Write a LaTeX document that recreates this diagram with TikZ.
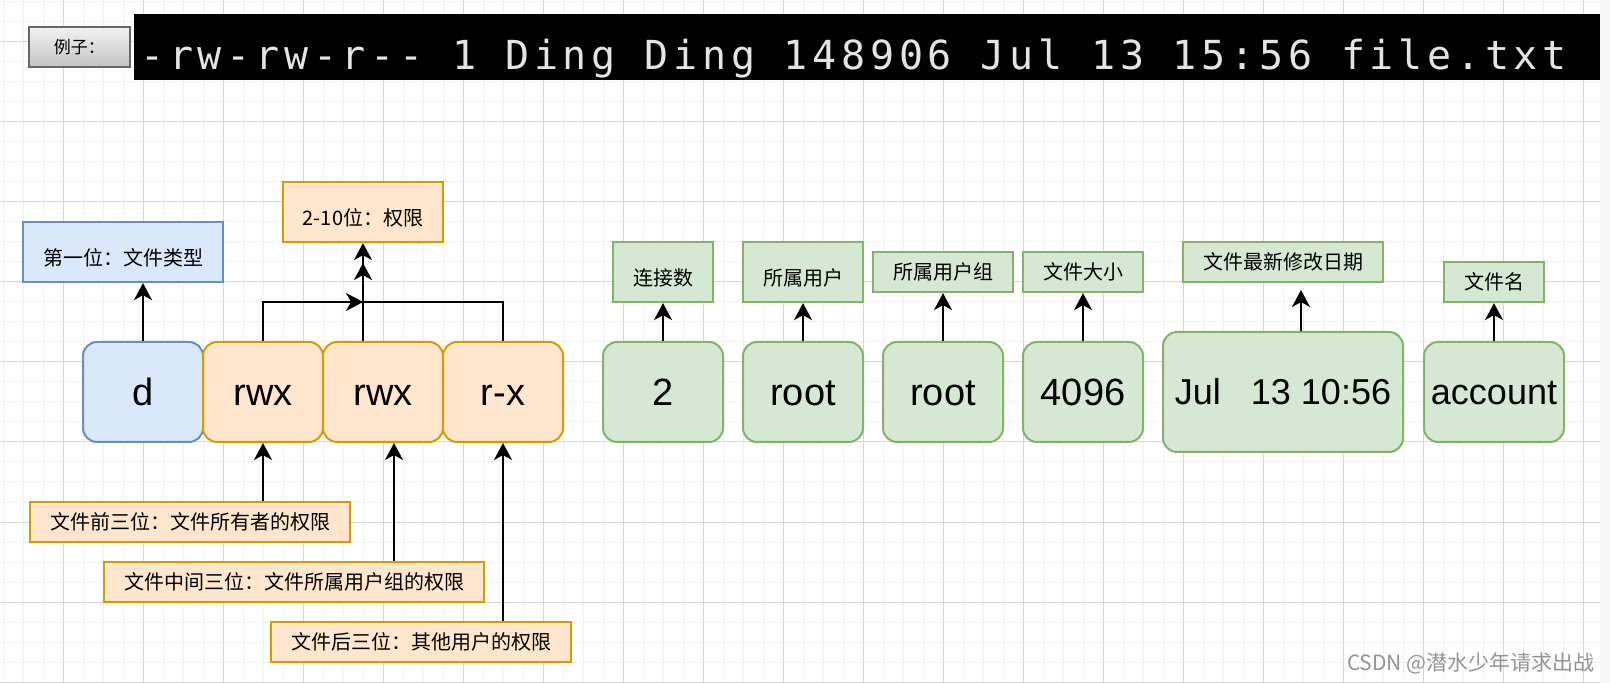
\documentclass[tikz,border=0pt]{standalone}
\usepackage{fontspec}
\setmainfont{Liberation Sans}
\newfontfamily\cjk{Noto Sans CJK SC}
\newfontfamily\termfont[LetterSpace=11.8]{DejaVu Sans Mono}
\usetikzlibrary{arrows.meta}
\definecolor{blueF}{HTML}{DAE8FC}
\definecolor{blueD}{HTML}{6C8EBF}
\definecolor{orangeF}{HTML}{FFE6CC}
\definecolor{orangeD}{HTML}{D79B00}
\definecolor{greenF}{HTML}{D5E8D4}
\definecolor{greenD}{HTML}{82B366}
\definecolor{gridlo}{HTML}{F0F0F0}
\definecolor{gridhi}{HTML}{D6D6D6}
\definecolor{termgray}{HTML}{E4E4E4}

\begin{document}
\begin{tikzpicture}[x=0.5pt, y=-0.5pt] % 1 unit = 1 px of the screenshot
\tikzstyle{gridminor} = [gridlo, line width=0.5pt] % fine grid
\tikzstyle{gridmajor} = [gridhi, line width=0.5pt] % every 4th line
\tikzstyle{bit} = [draw, line width=1pt, rounded corners=7pt, minimum width=60pt, minimum height=50pt, inner sep=0pt, font=\fontsize{19}{22}\selectfont, text height=13.6pt, text depth=0pt] % big field box
\tikzstyle{smallbit} = [bit, font=\fontsize{18}{22}\selectfont, text height=12.9pt] % same, smaller letters
\tikzstyle{tag} = [draw, line width=1.1pt, inner sep=0pt, font=\cjk\fontsize{10}{12}\selectfont, text height=8.6pt, text depth=1.4pt] % caption box
\tikzstyle{lowtag} = [tag, text height=14.6pt] % caption with text a bit lower
\tikzstyle{bluebox} = [fill=blueF, draw=blueD]
\tikzstyle{orangebox} = [fill=orangeF, draw=orangeD]
\tikzstyle{greenbox} = [fill=greenF, draw=greenD]
\tikzstyle{arr} = [draw, line width=1.2pt, -{Stealth[length=8.5pt, width=9pt, inset=2.5pt]}]

\useasboundingbox (0,0) rectangle (1610,683);
\fill[white] (0,0) rectangle (1600,683);
\fill[gray!6] (1600,0) rectangle (1610,683);
\foreach \gx in {3,23,...,1583} \draw[gridminor] (\gx,0) -- (\gx,683);
\foreach \gy in {2,22,...,682} \draw[gridminor] (0,\gy) -- (1600,\gy);
\foreach \gx in {63,143,...,1583} \draw[gridmajor] (\gx,0) -- (\gx,683);
\foreach \gy in {42,122,...,682} \draw[gridmajor] (0,\gy) -- (1600,\gy);

% example line
\node[draw=black!60, line width=1pt, top color=black!5, bottom color=black!24, minimum width=50.5pt, minimum height=20pt, inner sep=0pt, font=\cjk\fontsize{8.5}{10}\selectfont] (example) at (79.5,47.5) {例子：};
\node[fill=black, minimum width=733pt, minimum height=33pt, inner sep=0pt] (term) at (867,47) {};
\node[anchor=base west, inner sep=0pt, text=termgray, font=\termfont\fontsize{20}{24}\selectfont] (termline) at (140,70) {-rw-rw-r-{}- 1 Ding Ding 148906 Jul 13 15:56 file.txt};

% type and permission bits
\node[bit, bluebox] (ftype) at (143,392) {d};
\node[bit, orangebox] (uperm) at (263,392) {rwx};
\node[bit, orangebox] (gperm) at (383,392) {rwx};
\node[bit, orangebox] (operm) at (503,392) {r-x};

\node[lowtag, bluebox, minimum width=100pt, minimum height=30pt] (ftypetag) at (123,252) {第一位：文件类型};
\node[lowtag, orangebox, minimum width=80pt, minimum height=30pt] (permtag) at (363,212) {2-10位：权限};
\node[tag, orangebox, minimum width=160pt, minimum height=20pt] (upermtag) at (190,522) {文件前三位：文件所有者的权限};
\node[tag, orangebox, minimum width=190pt, minimum height=20pt] (gpermtag) at (294,582) {文件中间三位：文件所属用户组的权限};
\node[tag, orangebox, minimum width=150pt, minimum height=20pt] (opermtag) at (421,642) {文件后三位：其他用户的权限};

% other fields
\node[bit, greenbox] (links) at (663,392) {2};
\node[bit, greenbox] (owner) at (803,392) {root};
\node[bit, greenbox] (group) at (943,392) {root};
\node[bit, greenbox] (fsize) at (1083,392) {4096};
\node[smallbit, greenbox, minimum width=120pt, minimum height=60pt] (mtime) at (1283,392) {Jul\ \ \ 13 10:56};
\node[smallbit, greenbox, minimum width=70pt] (fname) at (1494,392) {account};

\node[lowtag, greenbox, minimum width=50pt, minimum height=30pt] (linkstag) at (663,272) {连接数};
\node[lowtag, greenbox, minimum width=60pt, minimum height=30pt] (ownertag) at (803,272) {所属用户};
\node[tag, greenbox, minimum width=70pt, minimum height=20pt] (grouptag) at (943,272) {所属用户组};
\node[tag, greenbox, minimum width=60pt, minimum height=20pt] (fsizetag) at (1083,272) {文件大小};
\node[tag, greenbox, minimum width=100pt, minimum height=20pt] (mtimetag) at (1283,262) {文件最新修改日期};
\node[tag, greenbox, minimum width=50pt, minimum height=20pt] (fnametag) at (1494,282) {文件名};

% connectors
\coordinate (permjoin) at (363,302);
\coordinate (permup) at (363,263);
\coordinate (mtimetip) at (1301,290);
\draw[arr] (ftype.north) -- (ftype.north |- ftypetag.south);
\draw[arr] (uperm.north) |- (permjoin);
\draw[arr] (operm.north) |- (permjoin) -- (permup);
\draw[arr] (permtag.south |- gperm.north) -- (permtag.south);
\draw[arr] (uperm.south |- upermtag.north) -- (uperm.south);
\draw[arr] ([xshift=5.5pt]gperm.south |- gpermtag.north) -- ([xshift=5.5pt]gperm.south);
\draw[arr] (operm.south |- opermtag.north) -- (operm.south);
\draw[arr] (links.north) -- (linkstag.south);
\draw[arr] (owner.north) -- (ownertag.south);
\draw[arr] (group.north) -- (grouptag.south);
\draw[arr] (fsize.north) -- (fsizetag.south);
\draw[arr] (mtime.north -| mtimetip) -- (mtimetip);
\draw[arr] (fname.north) -- (fnametag.south);

\node[anchor=east, inner sep=0pt, text=black!42, font=\cjk\fontsize{10.5}{12}\selectfont] (mark) at (1595,663) {CSDN @潜水少年请求出战};
\end{tikzpicture}
\end{document}
